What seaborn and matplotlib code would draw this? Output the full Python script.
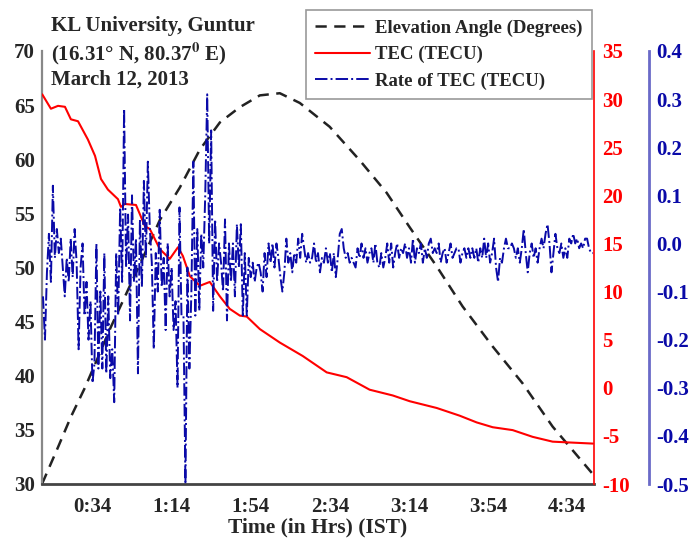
import numpy as np
import pandas as pd
import seaborn as sns
import matplotlib.pyplot as plt
from matplotlib.lines import Line2D

# ---- data ----
# elevation angle (deg) vs minutes after 0:00 IST
elev_min = [8.5, 16.6, 23.1, 30.2, 36.8, 43.3, 51.9, 60.5, 68.1, 78.2, 88.3, 98.4, 108.4,
            118.6, 128.7, 138.8, 153.9, 169.1, 182.7, 194.4, 208.0, 221.1, 236.3, 251.4,
            266.6, 286.5]
elev_deg = [30.0, 33.4, 36.2, 38.9, 41.7, 44.5, 47.9, 51.3, 54.4, 57.4, 60.9, 63.4, 64.8,
            65.9, 66.1, 65.2, 63.0, 59.9, 56.9, 53.7, 50.1, 46.4, 42.7, 39.3,
            35.3, 31.0]

# TEC (TECU)
tec_min = [8.6, 13.0, 16.6, 20.1, 23.1, 26.7, 31.7, 35.3, 38.3, 41.8, 46.9, 48.4, 50.4,
           56.0, 60.5, 63.0, 68.1, 73.1, 77.2, 79.7, 83.2, 88.3, 93.3, 98.4, 103.4, 108.5,
           112.0, 118.6, 128.7, 140.3, 152.4, 162.5, 174.1, 185.8, 194.4, 208.0, 219.6,
           228.2, 236.3, 246.4, 256.5, 266.6, 276.7, 287.0]
tec_val = [30.5, 29.0, 29.3, 29.2, 27.9, 27.7, 25.8, 24.1, 21.7, 20.6, 19.6, 18.8, 19.1,
           19.0, 16.8, 16.5, 14.4, 13.4, 14.6, 13.7, 11.6, 10.6, 11.0, 9.5, 8.2, 7.5,
           7.4, 6.1, 4.7, 3.3, 1.6, 1.1, -0.2, -0.8, -1.4, -2.1, -2.9,
           -3.6, -4.1, -4.4, -5.1, -5.6, -5.7, -5.8]

# rate of TEC (TECU), one value per minute starting at minute 9
rate_start = 9
rate_val = [
    # 9-38
    -0.11, -0.20, -0.06, 0.02, -0.08, 0.12, -0.03, 0.03, -0.02, 0.01,
    -0.05, -0.11, -0.03, -0.08, 0.01, -0.07, 0.03, -0.04, -0.22, -0.05,
    0.00, -0.15, -0.08, -0.20, -0.12, -0.29, -0.25, 0.00, -0.26, -0.10,
    # 39-68
    -0.26, -0.02, -0.27, -0.11, -0.28, -0.22, -0.33, -0.02, -0.15, 0.075,
    -0.08, 0.28, -0.05, 0.06, -0.16, 0.10, -0.08, 0.01, -0.27, 0.05,
    -0.09, 0.13, -0.03, 0.17, 0.03, -0.04, -0.22, -0.02, -0.10, 0.07,
    # 69-98
    -0.09, -0.03, -0.18, 0.00, -0.11, -0.05, -0.18, -0.12, -0.30, 0.075,
    -0.15, -0.15, -0.50, -0.05, -0.26, -0.10, 0.17, -0.15, 0.03, -0.14,
    0.02, -0.05, 0.10, 0.31, 0.00, 0.235, -0.14, 0.05, -0.08, 0.00,
    # 99-128
    -0.04, -0.10, 0.05, -0.16, 0.00, -0.08, 0.00, -0.11, 0.04, -0.05,
    0.04, -0.15, -0.02, -0.15, -0.03, -0.07, -0.04, -0.08, -0.05, -0.04,
    -0.06, -0.10, -0.02, -0.07, 0.00, -0.04, 0.00, -0.05, 0.00, -0.03,
    # 129-158
    -0.07, -0.10, -0.06, 0.01, -0.04, -0.02, -0.06, -0.02, -0.04, 0.01,
    -0.03, 0.02, -0.01, -0.04, -0.02, -0.04, -0.03, 0.00, -0.04, -0.02,
    -0.06, -0.03, -0.04, -0.01, -0.04, -0.02, -0.06, -0.02, -0.07, -0.03,
    # 159-188
    0.02, 0.03, -0.01, -0.03, -0.02, -0.04, -0.03, -0.04, -0.05, -0.01,
    -0.03, 0.00, -0.03, -0.01, -0.04, -0.02, -0.01, -0.04, 0.00, -0.04,
    -0.05, -0.02, -0.05, -0.03, 0.00, -0.04, 0.00, -0.05, -0.02, 0.00,
    # 189-218
    -0.03, -0.01, -0.02, 0.00, -0.03, -0.01, -0.04, 0.01, -0.04, -0.01,
    -0.02, 0.00, -0.04, -0.01, -0.03, 0.00, 0.01, -0.02, -0.01, -0.02,
    0.00, -0.04, -0.02, -0.01, -0.04, -0.02, 0.00, -0.03, -0.02, -0.01,
    # 219-248
    -0.01, -0.04, -0.02, -0.01, -0.03, -0.01, -0.03, -0.01, -0.03, -0.01,
    -0.04, -0.01, -0.03, 0.01, -0.03, 0.00, -0.04, -0.02, 0.01, -0.05,
    -0.08, -0.03, -0.04, -0.01, 0.01, -0.01, -0.01, 0.00, -0.01, -0.03,
    # 249-278
    -0.01, -0.04, -0.01, 0.03, -0.02, -0.06, -0.02, 0.00, -0.03, -0.01,
    -0.04, -0.01, 0.01, -0.01, 0.02, 0.04, 0.00, -0.06, -0.02, 0.02,
    -0.01, -0.02, 0.00, -0.03, -0.01, -0.03, 0.01, 0.00, 0.02, 0.00,
    # 279-287
    0.01, -0.01, 0.00, -0.01, 0.01, 0.01, -0.01, -0.02, -0.02,
]

tick_min = [34, 74, 114, 154, 194, 234, 274]
tick_lbl = ['0:34', '1:14', '1:54', '2:34', '3:14', '3:54', '4:34']

df_elev = pd.DataFrame({'Minute': elev_min, 'Elevation': elev_deg})
df_tec = pd.DataFrame({'Minute': tec_min, 'TEC': tec_val})
df_rate = pd.DataFrame({'Minute': np.arange(rate_start, rate_start + len(rate_val)),
                        'Rate': rate_val})

# ---- style ----
sns.set_style('white')
plt.rcParams['font.family'] = ['Liberation Serif', 'DejaVu Serif']
plt.rcParams['font.weight'] = 'bold'
plt.rcParams['axes.unicode_minus'] = False
plt.rcParams['mathtext.fontset'] = 'stix'

RED = '#ff0000'
BLUE = '#0a0aa8'
TICK_FS = 15

fig = plt.figure(figsize=(6.91, 5.43), dpi=100)
ax = fig.add_axes([42 / 691, 1 - 484 / 543, 552 / 691, 433 / 543])
ax_tec = ax.twinx()
ax_rate = ax.twinx()

sns.lineplot(data=df_elev, x='Minute', y='Elevation', ax=ax, color='#222222',
             linestyle=(0, (4.5, 3)), linewidth=1.8)
sns.lineplot(data=df_tec, x='Minute', y='TEC', ax=ax_tec, color=RED, linewidth=1.5)
sns.lineplot(data=df_rate, x='Minute', y='Rate', ax=ax_rate, color=BLUE,
             linestyle='-.', linewidth=1.4)

ax.set_xlim(8.5, 287.5)
ax.set_ylim(30, 70)
ax.set_yticks(range(30, 71, 5))
ax.set_xticks(tick_min)
ax.set_xticklabels(tick_lbl)
ax.set_xlabel('Time (in Hrs) (IST)', fontsize=15.5, fontweight='bold', labelpad=1)
ax.set_ylabel('')

ax_tec.set_ylim(-10, 35)
ax_tec.set_yticks(range(-10, 36, 5))
ax_tec.set_ylabel('')

ax_rate.set_ylim(-0.5, 0.4)
ax_rate.set_yticks(np.arange(-5, 5) / 10)
ax_rate.set_yticklabels([f'{v / 10:.1f}' for v in range(-5, 5)])
ax_rate.set_ylabel('')
ax_rate.spines['right'].set_position(('axes', 1.1))

for a in (ax, ax_tec, ax_rate):
    a.grid(False)
    a.spines['top'].set_visible(False)

ax.spines['right'].set_visible(False)
ax.spines['left'].set_color('#888888')
ax.spines['left'].set_linewidth(1.6)
ax.spines['bottom'].set_color('#444444')
ax.spines['bottom'].set_linewidth(2)
ax_tec.spines['left'].set_visible(False)
ax_tec.spines['bottom'].set_visible(False)
ax_tec.spines['right'].set_color(RED)
ax_tec.spines['right'].set_linewidth(1.2)
ax_rate.spines['left'].set_visible(False)
ax_rate.spines['bottom'].set_visible(False)
ax_rate.spines['right'].set_color('#6a6ac8')
ax_rate.spines['right'].set_linewidth(2)

ax.tick_params(axis='both', length=0, labelsize=TICK_FS, pad=5)
ax.tick_params(axis='x', pad=9)
ax_tec.tick_params(axis='y', length=0, labelsize=TICK_FS, labelcolor=RED, pad=6)
ax_rate.tick_params(axis='y', length=0, labelsize=TICK_FS, labelcolor=BLUE, pad=5)

# site text
fig.text(51 / 691, 1 - 31 / 543, 'KL University, Guntur', fontsize=15, fontweight='bold')
fig.text(51 / 691, 1 - 60 / 543, r'(16.31° N, 80.37$^{\mathbf{0}}$ E)', fontsize=15,
         fontweight='bold')
fig.text(51 / 691, 1 - 85 / 543, 'March 12, 2013', fontsize=15, fontweight='bold')

handles = [
    Line2D([], [], color='#222222', linestyle=(0, (4.5, 3)), linewidth=1.8),
    Line2D([], [], color=RED, linewidth=1.5),
    Line2D([], [], color=BLUE, linestyle='-.', linewidth=1.4),
]
labels = ['Elevation Angle (Degrees)', 'TEC (TECU)', 'Rate of TEC (TECU)']
leg = fig.legend(handles, labels, loc='upper right', bbox_to_anchor=(592 / 691, 1 - 10 / 543),
                 fancybox=False, frameon=True, edgecolor='#999999', framealpha=1,
                 prop={'size': 13.5, 'weight': 'bold'}, handlelength=2.9,
                 handletextpad=0.3, labelspacing=0.5, borderpad=0.5, borderaxespad=0)
leg.get_frame().set_linewidth(1.2)

fig.savefig('out.png', dpi=100)
